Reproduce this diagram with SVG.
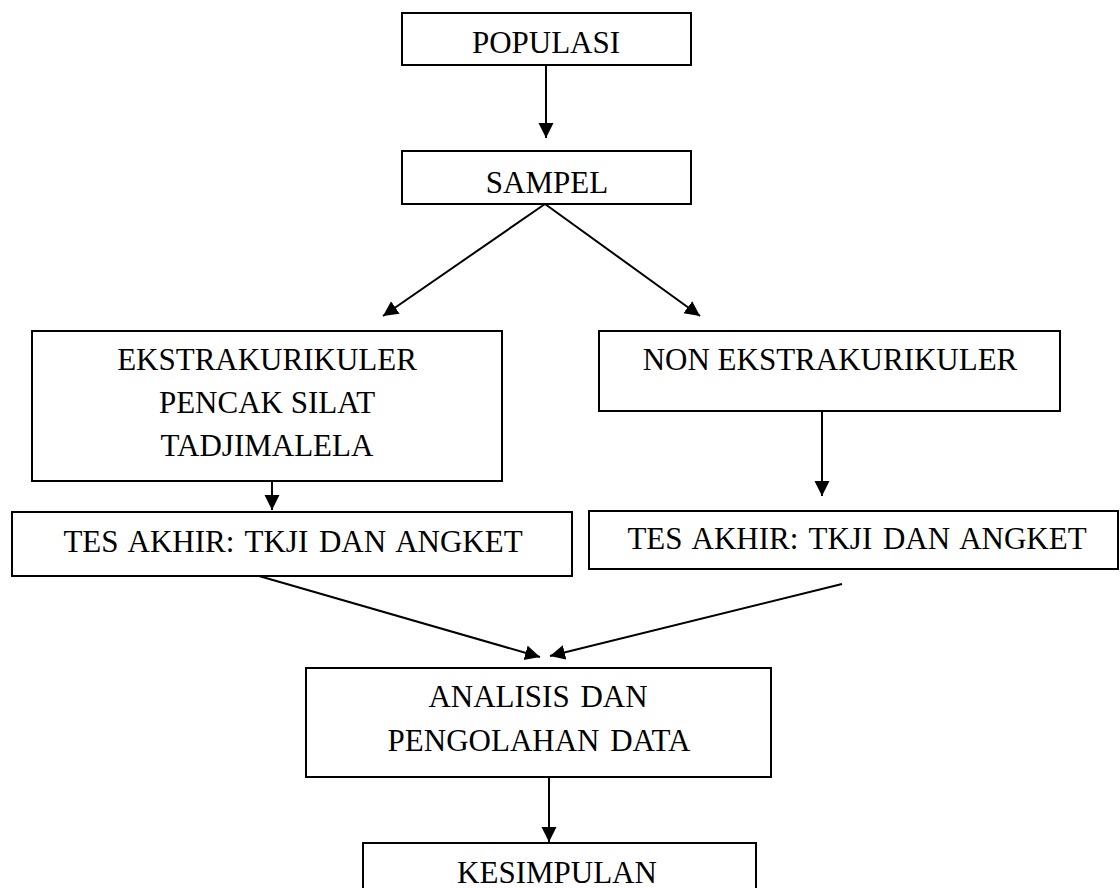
<svg xmlns="http://www.w3.org/2000/svg" width="1120" height="888" viewBox="0 0 1120 888">
<style>
  .box { fill: #ffffff; stroke: #000000; stroke-width: 2; }
  .lbl { font-family: "Liberation Serif", "Times New Roman", serif; font-size: 31px; fill: #000000; text-anchor: middle; }
  .wide { word-spacing: 3px; }
  .conn { stroke: #000000; stroke-width: 2; fill: none; marker-end: url(#arrow); }
</style>
<defs>
  <marker id="arrow" markerUnits="userSpaceOnUse" markerWidth="16" markerHeight="16" refX="15" refY="7.5" orient="auto">
    <path d="M0,0 L15,7.5 L0,15 Z" fill="#000000"/>
  </marker>
</defs>
<rect width="1120" height="888" fill="#ffffff"/>
<g id="connectors">
  <line class="conn" x1="546" y1="65" x2="546" y2="138"/>
  <line class="conn" x1="545" y1="204" x2="383" y2="316"/>
  <line class="conn" x1="545" y1="204" x2="700" y2="316"/>
  <line class="conn" x1="272" y1="481" x2="272" y2="510"/>
  <line class="conn" x1="822" y1="411" x2="822" y2="496"/>
  <line class="conn" x1="259" y1="576" x2="540" y2="657"/>
  <line class="conn" x1="842" y1="584" x2="550" y2="656"/>
  <line class="conn" x1="549" y1="777" x2="549" y2="842"/>
</g>
<g id="populasi">
  <rect class="box" x="402" y="13" width="289" height="52"/>
  <text class="lbl" x="546" y="53">POPULASI</text>
</g>
<g id="sampel">
  <rect class="box" x="402" y="151" width="289" height="53"/>
  <text class="lbl" x="547" y="193">SAMPEL</text>
</g>
<g id="ekstrakurikuler">
  <rect class="box" x="32" y="331" width="470" height="150"/>
  <text class="lbl" x="267" y="370">EKSTRAKURIKULER</text>
  <text class="lbl" x="267" y="413">PENCAK SILAT</text>
  <text class="lbl" x="267" y="456">TADJIMALELA</text>
</g>
<g id="non-ekstrakurikuler">
  <rect class="box" x="599" y="331" width="461" height="80"/>
  <text class="lbl" x="830" y="370">NON EKSTRAKURIKULER</text>
</g>
<g id="tes-akhir-kiri">
  <rect class="box" x="12" y="512" width="560" height="64"/>
  <text class="lbl wide" x="293" y="552">TES AKHIR: TKJI DAN ANGKET</text>
</g>
<g id="tes-akhir-kanan">
  <rect class="box" x="589" y="511" width="529" height="58"/>
  <text class="lbl wide" x="857" y="549">TES AKHIR: TKJI DAN ANGKET</text>
</g>
<g id="analisis">
  <rect class="box" x="306" y="668" width="465" height="109"/>
  <text class="lbl wide" x="538" y="707">ANALISIS DAN</text>
  <text class="lbl wide" x="539" y="751">PENGOLAHAN DATA</text>
</g>
<g id="kesimpulan">
  <rect class="box" x="363" y="843" width="393" height="60"/>
  <text class="lbl" x="557" y="883">KESIMPULAN</text>
</g>
</svg>
